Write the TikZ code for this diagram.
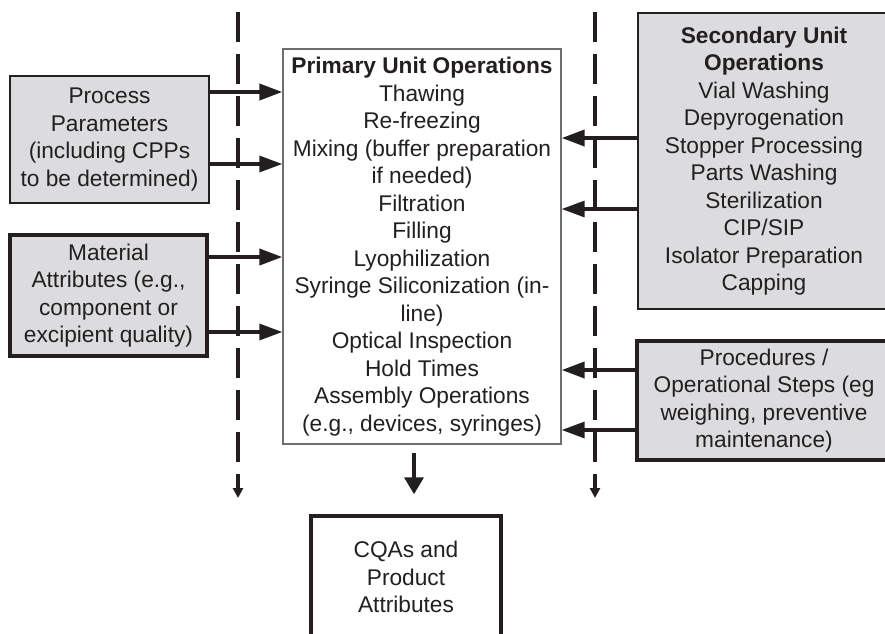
\documentclass[tikz,border=0pt]{standalone}
\usepackage{fontspec}
\setmainfont{Liberation Sans}
\usetikzlibrary{arrows.meta,calc}
\definecolor{ink}{RGB}{35,31,32}
\definecolor{boxgray}{RGB}{220,220,222}
\definecolor{edgegray}{RGB}{110,110,110}
\begin{document}
\begin{tikzpicture}[x=1pt,y=-1pt,
  txt/.style={font=\fontsize{22.7}{27.5}\selectfont, text=ink, align=center, inner sep=0pt},
  inputbox/.style={txt, draw=ink, fill=boxgray},
  mainbox/.style={txt, draw=edgegray, fill=white, line width=1.3pt},
  resultbox/.style={txt, draw=ink, fill=white, line width=3.5pt},
  feed/.style={draw=ink, line width=3.8pt, -{Triangle[length=23pt,width=16pt]}},
  feedthin/.style={feed, line width=3.2pt},
  flow/.style={draw=ink, line width=3.6pt, -{Triangle[length=17pt,width=19pt]}},
  boundary/.style={draw=ink, line width=3.2pt, dash pattern=on 30pt off 12pt,
    -{Triangle[length=10pt,width=10pt]}}
]
\useasboundingbox (0,0) rectangle (885,633);
\clip (0,0) rectangle (885,633);

% central block of primary operations
\node[mainbox, minimum width=278pt, minimum height=395pt] (pri) at (422,246.5)
  {\textbf{Primary Unit Operations}\\Thawing\\Re-freezing\\Mixing (buffer preparation\\if needed)\\Filtration\\Filling\\Lyophilization\\Syringe Siliconization (in-\\line)\\Optical Inspection\\Hold Times\\Assembly Operations\\(e.g., devices, syringes)};

% inputs on the left
\node[inputbox, line width=2pt, minimum width=199pt, minimum height=127pt] (pp) at (109.5,139.5)
  {Process\\Parameters\\(including CPPs\\to be determined)};
\node[inputbox, line width=3.6pt, minimum width=197pt, minimum height=121pt] (ma) at (108.5,295.5)
  {Material\\Attributes (e.g.,\\component or\\excipient quality)};

% inputs on the right
\node[inputbox, line width=2.8pt, minimum width=252pt, minimum height=296pt] (sec) at (764,161)
  {\textbf{Secondary Unit}\\\textbf{Operations}\\Vial Washing\\Depyrogenation\\Stopper Processing\\Parts Washing\\Sterilization\\CIP/SIP\\Isolator Preparation\\Capping};
\node[inputbox, line width=3.6pt, minimum width=254pt, minimum height=119pt] (proc) at (764,400.5)
  {Procedures /\\Operational Steps (eg\\weighing, preventive\\maintenance)};

% output
\node[resultbox, minimum width=190pt, minimum height=122pt] (cqa) at (406,577)
  {CQAs and\\Product\\Attributes};

% dashed boundaries
\coordinate (bl1) at (238,12);
\coordinate (bl2) at (238,498);
\coordinate (br1) at (595,12);
\coordinate (br2) at (595,498);
\draw[boundary] (bl1) -- (bl2);
\draw[boundary] (br1) -- (br2);

% feeds into the primary block
\draw[feed]     (pp.east |- 0,92)   -- (pri.west |- 0,92);
\draw[feedthin] (pp.east |- 0,164)  -- (pri.west |- 0,164);
\draw[feed]     (ma.east |- 0,257)  -- (pri.west |- 0,257);
\draw[feedthin] (ma.east |- 0,332)  -- (pri.west |- 0,332);
\draw[feed]     (sec.west |- 0,138) -- (pri.east |- 0,138);
\draw[feedthin] (sec.west |- 0,209) -- (pri.east |- 0,209);
\draw[feed]     (proc.west |- 0,370) -- (pri.east |- 0,370);
\draw[feedthin] (proc.west |- 0,430) -- (pri.east |- 0,430);

% result
\draw[flow] ($(pri.south)+(-8,8)$) -- ($(cqa.north)+(8,-20)$);
\end{tikzpicture}
\end{document}
